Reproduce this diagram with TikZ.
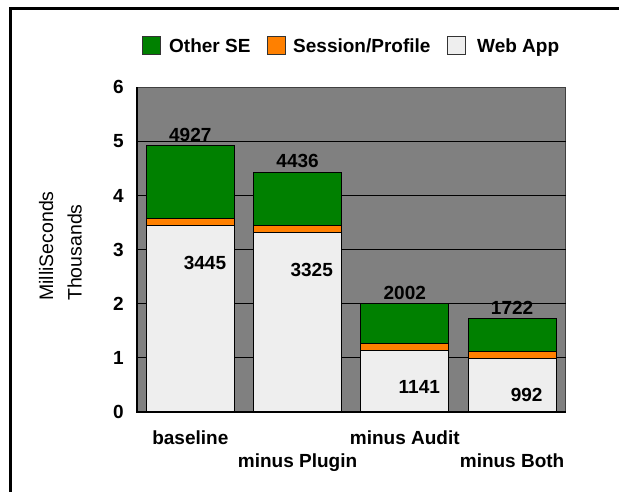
\documentclass[tikz,border=0pt]{standalone}
\usepackage{fontspec}
\setmainfont{Liberation Sans}
\usepackage{tikz}
\definecolor{otherse}{HTML}{008000}
\definecolor{sessprof}{HTML}{FF8000}
\definecolor{webapp}{HTML}{EEEEEE}
\definecolor{plotbg}{HTML}{808080}

\begin{document}
\begin{tikzpicture}[x=1pt,y=1pt,
  bold/.style={font=\bfseries\fontsize{19}{22}\selectfont, inner sep=0pt},
  plain/.style={font=\fontsize{19.5}{22}\selectfont, inner sep=0pt},
  segment/.style={draw=black, line width=0.8pt},
  keybox/.style={draw=black!80, line width=0.7pt, minimum size=17.5pt, inner sep=0pt},
  gridline/.style={black, line width=0.8pt},
  axisline/.style={black, line width=1.6pt}]
\useasboundingbox (0,0) rectangle (619,491);
% outer frame (cropped on the right and at the bottom)
\draw [line width=3.2pt] (10.4,-20) -- (10.4,482.6) -- (640,482.6);
% legend
\node [keybox, fill=otherse] (keyother) at (151.2,445.5) {};
\node [bold, anchor=base west] (txtother) at (169,438.8) {Other SE};
\node [keybox, fill=sessprof] (keysess) at (276.2,445.5) {};
\node [bold, anchor=base west] (txtsess) at (293,438.8) {Session/Profile};
\node [keybox, fill=webapp] (keyweb) at (456.2,445.5) {};
\node [bold, anchor=base west] (txtweb) at (477,438.8) {Web App};
% axis title
\node [plain, rotate=90, anchor=base west] (ytitle) at (53,190) {MilliSeconds};
\node [plain, rotate=90, anchor=base west] (yunits) at (81.7,190) {Thousands};
\begin{scope}[shift={(136.7,79.3)}, y=54.05pt]
\fill [plotbg] (0,0) rectangle (429,6);
\draw [black!75, line width=0.8pt] (0,6) -- (429,6) -- (429,0);
\draw [gridline] (0,1) -- (429,1);
\draw [gridline] (0,2) -- (429,2);
\draw [gridline] (0,3) -- (429,3);
\draw [gridline] (0,4) -- (429,4);
\draw [gridline] (0,5) -- (429,5);
% baseline
\draw [segment, fill=webapp] (9.6,0) rectangle (97.6,3.445);
\draw [segment, fill=sessprof] (9.6,3.445) rectangle (97.6,3.574);
\draw [segment, fill=otherse] (9.6,3.574) rectangle (97.6,4.927);
% minus Plugin
\draw [segment, fill=webapp] (116.9,0) rectangle (204.9,3.325);
\draw [segment, fill=sessprof] (116.9,3.325) rectangle (204.9,3.452);
\draw [segment, fill=otherse] (116.9,3.452) rectangle (204.9,4.436);
% minus Audit
\draw [segment, fill=webapp] (224.1,0) rectangle (312.1,1.141);
\draw [segment, fill=sessprof] (224.1,1.141) rectangle (312.1,1.259);
\draw [segment, fill=otherse] (224.1,1.259) rectangle (312.1,2.002);
% minus Both
\draw [segment, fill=webapp] (331.4,0) rectangle (419.4,0.992);
\draw [segment, fill=sessprof] (331.4,0.992) rectangle (419.4,1.118);
\draw [segment, fill=otherse] (331.4,1.118) rectangle (419.4,1.722);
\draw [axisline] (0,6) -- (0,0) -- (429,0);
% tick labels
\foreach \v in {0,...,6}
  \node [bold, anchor=east] (tick\v) at (-12.7,\v) {\v};
% totals
\node [bold, anchor=base, yshift=4pt] (total1) at (53.6,4.927) {4927};
\node [bold, anchor=base, yshift=4pt] (total2) at (160.9,4.436) {4436};
\node [bold, anchor=base, yshift=4pt] (total3) at (268.1,2.002) {2002};
\node [bold, anchor=base, yshift=4pt] (total4) at (375.4,1.722) {1722};
% web app values
\node [bold] (web1) at (68.3,2.746) {3445};
\node [bold] (web2) at (175,2.628) {3325};
\node [bold] (web3) at (282.6,0.463) {1141};
\node [bold] (web4) at (390,0.309) {992};
% categories
\node [bold, anchor=base] (cat1) at (53.6,-0.607) {baseline};
\node [bold, anchor=base] (cat2) at (160.9,-1.038) {minus Plugin};
\node [bold, anchor=base] (cat3) at (268.1,-0.607) {minus Audit};
\node [bold, anchor=base] (cat4) at (375.4,-1.038) {minus Both};
\end{scope}
\end{tikzpicture}
\end{document}
